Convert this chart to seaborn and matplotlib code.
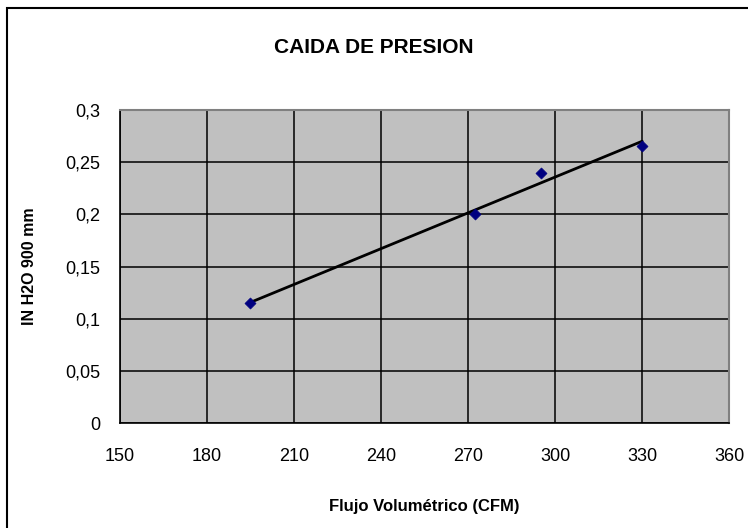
import seaborn as sns
import matplotlib.pyplot as plt
import matplotlib.patches as patches
import matplotlib.ticker as mticker
import pandas as pd
import numpy as np

# Flow vs pressure drop readings
flujo = [195, 272.5, 295, 330]
caida = [0.115, 0.2, 0.24, 0.265]

x_ticks = [150, 180, 210, 240, 270, 300, 330, 360]
y_ticks = [0, 0.05, 0.1, 0.15, 0.2, 0.25, 0.3]

data = pd.DataFrame({"Flujo": flujo, "Caida": caida})

sns.set_style("white", {"axes.facecolor": "#C0C0C0", "text.color": "black",
                        "xtick.color": "black", "ytick.color": "black",
                        "axes.labelcolor": "black"})
plt.rcParams['font.family'] = ['Liberation Sans', 'DejaVu Sans']

fig = plt.figure(figsize=(7.48, 5.28), dpi=100)
ax = fig.add_axes([0.16, 0.198, 0.815, 0.594])

# linear trendline (Excel style)
m, b = np.polyfit(data["Flujo"], data["Caida"], 1)
xs = np.array([min(flujo), max(flujo)])
sns.lineplot(x=xs, y=m * xs + b, ax=ax, color="black", linewidth=2, zorder=3)

sns.scatterplot(data=data, x="Flujo", y="Caida", ax=ax, marker="D",
                color="#000080", s=32, edgecolor="#000080", zorder=4)

ax.set_xlim(150, 360)
ax.set_ylim(0, 0.3)
ax.set_xticks(x_ticks)
ax.set_yticks(y_ticks)
ax.yaxis.set_major_formatter(mticker.FuncFormatter(
    lambda v, p: ("%g" % round(v, 2)).replace(".", ",")))
ax.grid(True, color="black", linewidth=1.1)
ax.set_axisbelow(True)

for s in ["left", "bottom"]:
    ax.spines[s].set_color("black")
    ax.spines[s].set_linewidth(1.2)
for s in ["top", "right"]:
    ax.spines[s].set_color("#808080")
    ax.spines[s].set_linewidth(1.5)

ax.tick_params(axis="both", direction="out", length=6, width=1, color="black",
               labelsize=13)
ax.tick_params(axis="x", pad=12)
ax.tick_params(axis="y", pad=8)

ax.set_xlabel("Flujo Volumétrico (CFM)", fontsize=12, weight="bold", labelpad=24)
ax.set_ylabel("IN H2O 900 mm", fontsize=11.5, weight="bold", labelpad=20)
fig.text(0.5, 0.91, "CAIDA DE PRESION", ha="center", va="center",
         fontsize=15, weight="bold")

# chart-area border
fig.patches.append(patches.Rectangle((7 / 748, -0.05), 1.1, 1 - 8 / 528 + 0.05,
                                     transform=fig.transFigure, fill=False,
                                     edgecolor="black", linewidth=1.5))

plt.savefig("out.png", dpi=100)
